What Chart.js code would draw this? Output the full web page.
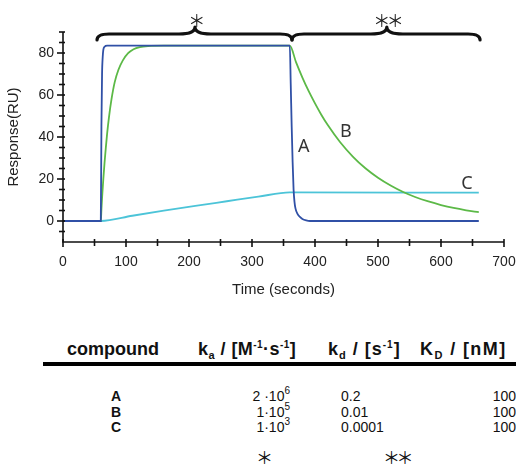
<!DOCTYPE html>
<html lang="en">
<head>
    <meta charset="UTF-8">
    <title>Sensorgram</title>
    <script src="https://cdn.jsdelivr.net/npm/chart.js"></script>
    <style>
        body {
        margin: 0;
        background: #fff;
        font-family: "Liberation Sans", Arial, sans-serif;
        color: #111;
        }
        #wrap {
        position: relative;
        width: 516px;
        height: 464px;
        overflow: hidden;
        }
        #plot {
        position: absolute;
        left: 0;
        top: 0;
        }
        .t {
        position: absolute;
        white-space: nowrap;
        line-height: 1;
        }
        .hd {
        font-size: 18px;
        font-weight: bold;
        }
        .row {
        font-size: 14px;
        }
        .sb {
        font-size: 11px;
        position: relative;
        top: 4px;
        }
        .sp {
        font-size: 10px;
        position: relative;
        top: -7px;
        }
        .rule {
        position: absolute;
        left: 43px;
        top: 362px;
        width: 473px;
        height: 4px;
        background: #000;
        }
        .star {
        font-family: "Noto Sans CJK JP", sans-serif;
        font-size: 17px;
        letter-spacing: -3.5px;
        }
    </style>
</head>
<body>
<div id="wrap">
    <canvas id="plot" width="516" height="300"></canvas>

    <div class="t hd" style="left:67px; top:340px;">compound</div>
    <div class="t hd" style="left:198px; top:340px; letter-spacing:0.45px;">k<span class="sb">a</span> / [M<span class="sp">-1</span>·s<span class="sp">-1</span>]</div>
    <div class="t hd" style="left:328px; top:340px; letter-spacing:1px;">k<span class="sb">d</span> / [s<span class="sp">-1</span>]</div>
    <div class="t hd" style="left:420px; top:340px; letter-spacing:1.4px;">K<span class="sb">D</span> / [nM]</div>
    <div class="rule"></div>
    <div id="rows"></div>
    <div class="t star" style="left:256px; top:448px;">＊</div>
    <div class="t star" style="left:383px; top:448px;">＊＊</div>
</div>

<script>
    // sensorgram curves
    const timeA = [0, 60, 61, 62, 63, 64, 66, 70, 360, 361.5, 363, 364.5, 366, 367.5, 369, 372, 376, 380, 386, 392, 660];
    const respA = [0, 0, 45, 70, 78, 81.5, 83, 83.5, 83.5, 65, 45, 28, 15, 9, 6, 3.5, 2, 1, 0.3, 0, 0];

    const timeB = [0, 60, 61, 62, 64, 66, 68, 70, 73, 77, 82, 88, 95, 103, 112, 122, 135, 160, 360,
                   370, 380, 390, 400, 410, 420, 440, 460, 480, 500, 520, 540, 560, 580, 600, 620, 640, 660];
    const respB = [0, 0, 5.5, 11, 20, 28, 35, 41.5, 49.5, 58, 66, 72, 76.5, 79.8, 81.8, 82.8, 83.3, 83.5, 83.5,
                   75.5, 68.3, 61.8, 56, 50.6, 45.8, 37.5, 30.7, 25.1, 20.6, 16.9, 13.8, 11.3, 9.3, 7.6, 6.2, 5.1, 4.2];

    const timeC = [0, 60, 110, 160, 210, 260, 310, 360, 660];
    const respC = [0, 0, 2.5, 4.9, 7.2, 9.4, 11.6, 13.6, 13.5];

    const seriesNames = ['A', 'B', 'C'];
    const seriesColors = ['#3050a6', '#5cb947', '#4cc4d8'];
    // where the curve letters sit (time, response)
    const labelAt = [[382, 35.3], [449, 42.4], [641, 17.9]];

    const xMin = 0, xMax = 700, xStep = 50;
    const yMin = -10, yMax = 90, yStep = 5;

    // braces over the association / dissociation phases: start, middle, end (seconds)
    const braces = [[54, 209.5, 363.5, '＊'], [363.5, 514, 662, '＊＊']];

    const tableRows = [
        ['A', '2 ·10', '6', '0.2', '100'],
        ['B', '1·10', '5', '0.01', '100'],
        ['C', '1·10', '3', '0.0001', '100']
    ];

    const rowsEl = document.getElementById('rows');
    tableRows.forEach((r, i) => {
        const top = 389 + i * 15.5;
        rowsEl.innerHTML +=
            `<div class="t row" style="left:111px; top:${top}px; font-weight:bold;">${r[0]}</div>` +
            `<div class="t row" style="right:226px; top:${top}px;">${r[1]}<span class="sp">${r[2]}</span></div>` +
            `<div class="t row" style="left:341px; top:${top}px;">${r[3]}</div>` +
            `<div class="t row" style="right:0px; top:${top}px;">${r[4]}</div>`;
    });

    const pts = (xs, ys) => xs.map((v, i) => ({x: v, y: ys[i]}));

    function drawBrace(ctx, x1, xc, x2, yEnd, yBase, yPeak) {
        ctx.beginPath();
        ctx.moveTo(x1, yEnd);
        ctx.quadraticCurveTo(x1, yBase, x1 + 12, yBase);
        ctx.lineTo(xc - 16, yBase);
        ctx.quadraticCurveTo(xc, yBase, xc, yPeak);
        ctx.quadraticCurveTo(xc, yBase, xc + 16, yBase);
        ctx.lineTo(x2 - 12, yBase);
        ctx.quadraticCurveTo(x2, yBase, x2, yEnd);
        ctx.stroke();
    }

    const decor = {
        id: 'decor',
        afterDraw(chart) {
            const {ctx, chartArea: ca, scales: {x, y}} = chart;
            ctx.save();
            ctx.strokeStyle = '#111';
            ctx.lineWidth = 1.6;
            ctx.beginPath();
            ctx.moveTo(ca.left, ca.top);
            ctx.lineTo(ca.left, ca.bottom);
            ctx.lineTo(ca.right, ca.bottom);
            ctx.stroke();

            y.ticks.forEach(t => {
                if (t.value === yMin) return;
                const py = y.getPixelForValue(t.value);
                const major = t.value % 20 === 0;
                ctx.beginPath();
                ctx.moveTo(ca.left - (major ? 6 : 4), py);
                ctx.lineTo(ca.left + 2, py);
                ctx.stroke();
            });
            x.ticks.forEach(t => {
                const px = x.getPixelForValue(t.value);
                const major = t.value % 100 === 0;
                ctx.beginPath();
                ctx.moveTo(px, ca.bottom - 3);
                ctx.lineTo(px, ca.bottom + (major ? 5 : 4));
                ctx.stroke();
            });

            // curve letters
            ctx.fillStyle = '#333';
            ctx.font = '18px "Noto Sans"';
            ctx.textAlign = 'center';
            ctx.textBaseline = 'middle';
            labelAt.forEach((p, i) => {
                ctx.fillText(seriesNames[i], x.getPixelForValue(p[0]), y.getPixelForValue(p[1]));
            });

            // braces + stars
            ctx.strokeStyle = '#111';
            ctx.lineWidth = 3.2;
            ctx.lineCap = 'round';
            ctx.lineJoin = 'round';
            ctx.fillStyle = '#222';
            ctx.font = '17px "Noto Sans CJK JP"';
            ctx.letterSpacing = '-3.5px';
            braces.forEach(b => {
                const xc = x.getPixelForValue(b[1]);
                drawBrace(ctx, x.getPixelForValue(b[0]), xc, x.getPixelForValue(b[2]),
                          ca.top + 8, ca.top + 2, ca.top - 5);
                ctx.fillText(b[3], xc, ca.top - 11);
            });
            ctx.restore();
        }
    };

    const ctx = document.getElementById('plot').getContext('2d');
    Chart.defaults.font.family = '"Liberation Sans", Arial, sans-serif';
    Chart.defaults.color = '#222';

    const plot = new Chart(ctx, {
        type: 'line',
        data: {
            datasets: [
                {label: 'A', data: pts(timeA, respA), borderColor: seriesColors[0]},
                {label: 'B', data: pts(timeB, respB), borderColor: seriesColors[1]},
                {label: 'C', data: pts(timeC, respC), borderColor: seriesColors[2]}
            ].map(d => Object.assign(d, {
                borderWidth: 1.8,
                pointRadius: 0,
                fill: false,
                cubicInterpolationMode: 'monotone'
            }))
        },
        options: {
            responsive: false,
            animation: false,
            devicePixelRatio: 1,
            layout: {padding: {top: 32, right: 0, left: 0, bottom: 0}},
            plugins: {legend: {display: false}, tooltip: {enabled: false}},
            scales: {
                x: {
                    type: 'linear',
                    min: xMin,
                    max: xMax,
                    grid: {display: false, drawTicks: false},
                    border: {display: false},
                    ticks: {
                        stepSize: xStep,
                        autoSkip: false,
                        maxRotation: 0,
                        padding: 12,
                        font: {size: 14},
                        callback: v => (v % 100 === 0 ? v : '')
                    },
                    title: {display: true, text: 'Time (seconds)', font: {size: 15}, padding: {top: 0, bottom: 1}},
                    afterFit: s => { s.height = 58; s.paddingLeft = 0; s.paddingRight = 12; }
                },
                y: {
                    min: yMin,
                    max: yMax,
                    grid: {display: false, drawTicks: false},
                    border: {display: false},
                    ticks: {
                        stepSize: yStep,
                        autoSkip: false,
                        padding: 9,
                        font: {size: 14},
                        callback: v => (v % 20 === 0 ? v : '')
                    },
                    title: {display: true, text: 'Response(RU)', font: {size: 15}, padding: {top: 5, bottom: 0}},
                    afterFit: s => { s.width = 63; }
                }
            }
        },
        plugins: [decor]
    });
</script>
</body>
</html>
